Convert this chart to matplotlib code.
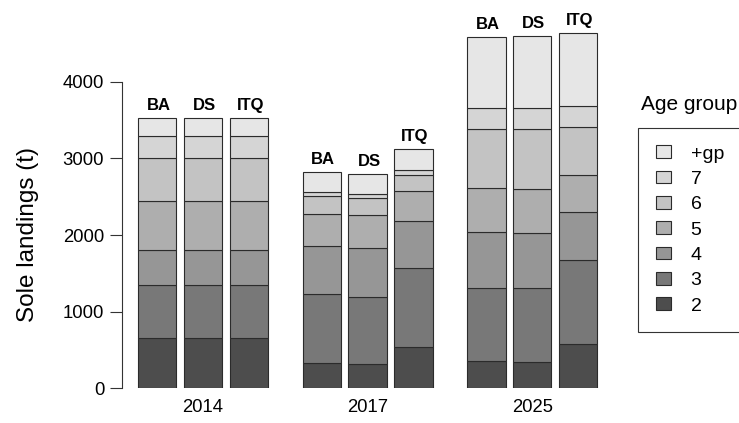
import matplotlib.pyplot as plt
import numpy as np

plt.rcParams['font.family'] = ['Liberation Sans', 'DejaVu Sans']

years = ['2014', '2017', '2025']
scenarios = ['BA', 'DS', 'ITQ']
age_groups = ['2', '3', '4', '5', '6', '7', '+gp']

# landings (t) per age group, bars ordered 2014 BA/DS/ITQ, 2017 ..., 2025 ...
age2 = [650, 650, 650, 323, 310, 536, 353, 344, 579]
age3 = [696, 696, 696, 902, 883, 1029, 958, 959, 1094]
age4 = [462, 462, 462, 631, 641, 618, 732, 727, 632]
age5 = [636, 636, 636, 422, 427, 392, 567, 567, 479]
age6 = [566, 566, 566, 232, 227, 209, 780, 793, 628]
age7 = [284, 284, 284, 56, 44, 66, 274, 274, 274]
age_gp = [239, 239, 239, 258, 261, 278, 928, 937, 951]
landings = [age2, age3, age4, age5, age6, age7, age_gp]

colors = ['#4D4D4D', '#787878', '#969696', '#AEAEAE', '#C3C3C3', '#D5D5D5', '#E6E6E6']

fig = plt.figure(figsize=(7.39, 4.23), dpi=100)
ax_left = 121.5
ax_w = 610 - ax_left
ax = fig.add_axes([ax_left/739, 35/423, ax_w/739, 367.2/423])

x = np.array([g*4.3 + i*1.2 for g in range(3) for i in range(3)])
bottom = np.zeros(len(x))
handles = []
for lab, vals, col in zip(age_groups, landings, colors):
    b = ax.bar(x, vals, width=1, bottom=bottom, color=col,
               edgecolor='#2b2b2b', linewidth=0.8, label=lab)
    handles.append(b)
    bottom += np.array(vals)

for xi, top, s in zip(x, bottom, scenarios*3):
    ax.annotate(s, (xi, top), xytext=(1, 3.5), textcoords='offset points',
                ha='center', va='bottom', fontweight='bold', fontsize=12,
                annotation_clip=False)

x0 = (ax_left - 157) / 38.3
ax.set_xlim(x0, x0 + ax_w/38.3)
ax.set_ylim(0, 4800)

for s in ['top', 'right', 'bottom']:
    ax.spines[s].set_visible(False)
ax.spines['left'].set_bounds(0, 4000)
ax.spines['left'].set_color('#333333')
ax.set_yticks([0, 1000, 2000, 3000, 4000])
ax.tick_params(axis='y', length=8.5, width=0.8, color='#333333', labelsize=13.3, pad=4)
ax.set_xticks([x[1], x[4], x[7]])
ax.set_xticklabels(years)
ax.tick_params(axis='x', length=0, labelsize=13.3, pad=8)
ax.set_ylabel('Sole landings (t)', fontsize=17.5)
ax.yaxis.set_label_coords((39 - ax_left)/ax_w, 2000/4800)

fig.text(689/739, 1 - 105/423, 'Age group', ha='center', va='center', fontsize=15)
leg = fig.legend(handles[::-1], age_groups[::-1], loc='upper left',
                 bbox_to_anchor=(638/739, 1 - 128/423), borderaxespad=0,
                 fontsize=14, frameon=True, fancybox=False, framealpha=1,
                 edgecolor='#333333', borderpad=0.9, labelspacing=0.42,
                 handlelength=0.82, handleheight=0.62, handletextpad=0.98)
leg.get_frame().set_linewidth(0.8)

fig.savefig('out.png', dpi=100)
